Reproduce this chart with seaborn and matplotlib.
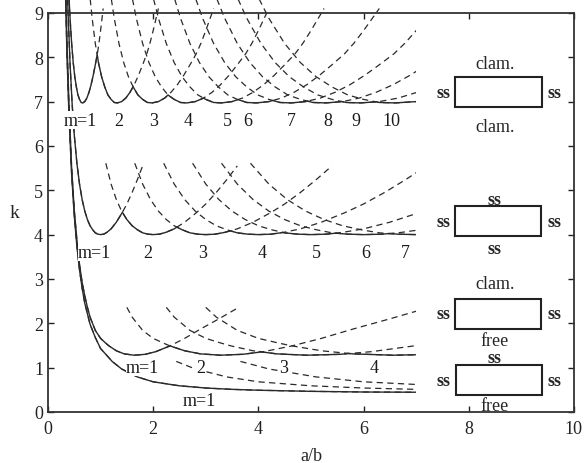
import numpy as np
import matplotlib
matplotlib.use("Agg")
import matplotlib.pyplot as plt
from matplotlib.patches import Rectangle
import seaborn as sns

# --- data ---
# each family: base curve k(r) with r = a/(m b); mode m is the same curve at a/b = m*r

# loaded edges ss, unloaded edges clamped
r_cc = [0.40, 0.42, 0.45, 0.48, 0.51, 0.54, 0.57, 0.60, 0.63, 0.66, 0.70, 0.74,
        0.78, 0.82, 0.86, 0.90, 0.94, 0.97, 1.00, 1.03, 1.05]
k_cc = [9.35, 8.88, 8.31, 7.88, 7.56, 7.33, 7.15, 7.05, 6.98, 6.97, 7.00, 7.08,
        7.21, 7.38, 7.59, 7.83, 8.08, 8.32, 8.60, 8.90, 9.10]
modes_cc = [1, 2, 3, 4, 5, 6, 7, 8, 9, 10]
cusps_cc = [0.93, 1.62, 2.29, 2.95, 3.61, 4.27, 4.94, 5.60, 6.26]

# all edges ss
r_ss = [0.35, 0.38, 0.42, 0.46, 0.50, 0.55, 0.60, 0.65, 0.70, 0.75, 0.80, 0.85,
        0.90, 0.95, 1.00, 1.06, 1.12, 1.20, 1.30, 1.414, 1.50, 1.60, 1.70, 1.80]
k_ss = [10.29, 9.07, 7.85, 6.94, 6.25, 5.61, 5.14, 4.79, 4.53, 4.34, 4.20, 4.11,
        4.04, 4.01, 4.00, 4.01, 4.05, 4.13, 4.28, 4.50, 4.69, 4.95, 5.24, 5.55]
modes_ss = [1, 2, 3, 4, 5, 6, 7]
cusps_ss = [1.41, 2.45, 3.46, 4.47, 5.48, 6.48]

# unloaded edges clamped / free
r_cf = [0.33, 0.36, 0.40, 0.45, 0.50, 0.55, 0.60, 0.65, 0.70, 0.75, 0.80, 0.90,
        1.00, 1.10, 1.16, 1.30, 1.45, 1.64, 1.85, 2.05, 2.32, 2.60, 2.90, 3.25, 3.60]
k_cf = [9.90, 8.40, 6.90, 5.50, 4.55, 3.88, 3.32, 2.92, 2.62, 2.36, 2.14, 1.84,
        1.66, 1.55, 1.49, 1.38, 1.31, 1.28, 1.30, 1.36, 1.49, 1.66, 1.87, 2.10, 2.34]
modes_cf = [1, 2, 3, 4]
cusps_cf = [2.32, 4.02, 5.68]

# unloaded edges ss / free (m=1 governs everywhere)
r_sf = [0.33, 0.36, 0.40, 0.45, 0.50, 0.55, 0.60, 0.65, 0.70, 0.80, 0.90, 1.00,
        1.10, 1.22, 1.40, 1.70, 2.00, 2.50, 3.00, 3.50, 4.00, 5.00, 6.00, 7.00]
k_sf = [9.60, 8.10, 6.67, 5.36, 4.43, 3.73, 3.20, 2.79, 2.45, 1.98, 1.68, 1.43,
        1.30, 1.14, 0.97, 0.79, 0.68, 0.59, 0.54, 0.51, 0.49, 0.465, 0.45, 0.445]
modes_sf = [1, 2, 3]
cusps_sf = []
governing_sf = [1]

families = [
    (r_cc, k_cc, modes_cc, cusps_cc, modes_cc, 0.40),
    (r_ss, k_ss, modes_ss, cusps_ss, modes_ss, 0.55),
    (r_cf, k_cf, modes_cf, cusps_cf, modes_cf, 0.75),
    (r_sf, k_sf, modes_sf, cusps_sf, governing_sf, 1.22),
]

# mode labels: (text, a/b, k)
labels_cc = [("m=1", 0.62, 6.58), ("2", 1.35, 6.58), ("3", 2.0, 6.58), ("4", 2.67, 6.58),
             ("5", 3.42, 6.58), ("6", 3.8, 6.58), ("7", 4.62, 6.58), ("8", 5.32, 6.58),
             ("9", 5.86, 6.58), ("10", 6.53, 6.58)]
labels_ss = [("m=1", 0.89, 3.6), ("2", 1.9, 3.6), ("3", 2.94, 3.6), ("4", 4.08, 3.6),
             ("5", 5.1, 3.6), ("6", 6.04, 3.6), ("7", 6.8, 3.6)]
labels_cf = [("m=1", 1.8, 1.0), ("2", 2.91, 1.0), ("3", 4.48, 1.0), ("4", 6.21, 1.0)]
labels_sf = [("m=1", 2.88, 0.26)]

# edge condition sketches: (x0, x1, y0, y1), top, bottom
boxes = [
    ((7.73, 9.40, 6.88, 7.55), "clam.", "clam.", 7.86, 6.43),
    ((7.73, 9.38, 3.97, 4.64), "ss", "ss", 4.79, 3.68),
    ((7.73, 9.38, 1.87, 2.55), "clam.", "free", 2.89, 1.61),
    ((7.75, 9.40, 0.39, 1.05), "ss", "free", 1.23, 0.14),
]

sns.set_style("ticks")
plt.rcParams['font.family'] = ['Liberation Serif', 'DejaVu Serif']

fig = plt.figure(figsize=(5.85, 4.64), dpi=100)
ax = fig.add_axes([0.082, 0.110, 0.899, 0.860])
ax.set_xlim(0, 10)
ax.set_ylim(0, 9)

line_col = '#2a2a2a'
for r_base, k_base, modes, cusps, governing, r_start in families:
    r_base = np.array(r_base)
    k_base = np.array(k_base)
    for i, m in enumerate(modes):
        keep = r_base >= (r_start if m > 1 else 0)
        xs = m * r_base[keep]
        ks = k_base[keep]
        # full mode curve, dashed
        sns.lineplot(x=xs, y=ks, ax=ax, sort=False, estimator=None, color=line_col,
                     linewidth=0.9, linestyle=(0, (5, 3.5)))
        ax.lines[-1].set_clip_path(Rectangle((0, -1), 7, 11, transform=ax.transData))
        if m not in governing:
            continue
        # governing part of the curve, solid
        lo = cusps[i - 1] if i > 0 else 0
        hi = cusps[i] if i < len(cusps) else 7
        sns.lineplot(x=xs, y=ks, ax=ax, sort=False, estimator=None, color=line_col,
                     linewidth=1.0)
        ax.lines[-1].set_clip_path(Rectangle((lo, -1), hi - lo, 11, transform=ax.transData))

for lab in [labels_cc, labels_ss, labels_cf, labels_sf]:
    for txt, x, y in lab:
        ax.text(x, y, txt, ha='center', va='center', fontsize=13, color='#1a1a1a',
                bbox=dict(facecolor='white', edgecolor='none', pad=0.3))

for (x0, x1, y0, y1), top, bot, ytop, ybot in boxes:
    ax.add_patch(Rectangle((x0, y0), x1 - x0, y1 - y0, fill=False,
                           edgecolor='#222222', linewidth=1.5))
    ym = (y0 + y1) / 2
    ax.text(7.52, ym, "ss", ha='center', va='center', fontsize=13, fontweight='bold')
    ax.text(9.63, ym, "ss", ha='center', va='center', fontsize=13, fontweight='bold')
    for txt, yy in [(top, ytop), (bot, ybot)]:
        if txt == "ss":
            ax.text(8.5, yy, txt, ha='center', va='center', fontsize=13, fontweight='bold')
        else:
            ax.text(8.5, yy, txt, ha='center', va='center', fontsize=13)

ax.set_xticks([0, 2, 4, 6, 8, 10])
ax.set_yticks(range(10))
ax.tick_params(direction='in', top=True, right=True, length=4, width=1.0,
               labelsize=13, colors='#222222')
ax.tick_params(axis='x', pad=6)
for s in ax.spines.values():
    s.set_linewidth(1.3)
    s.set_color('#333333')

ax.set_xlabel('a/b', fontsize=13)
ax.xaxis.set_label_coords(0.5, -0.088)
ax.set_ylabel('k', fontsize=14, rotation=0, va='center', ha='center')
ax.yaxis.set_label_coords(-0.063, 0.5)

fig.savefig('out.png', dpi=100)
